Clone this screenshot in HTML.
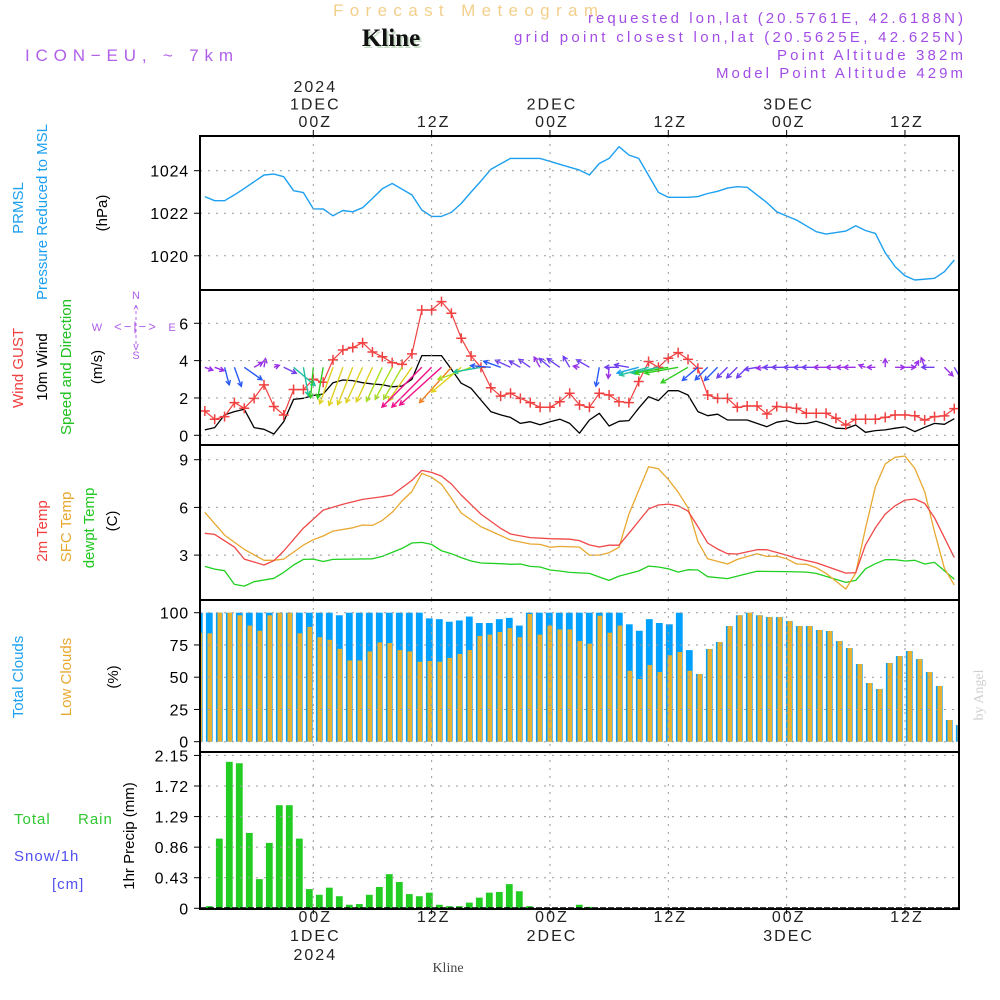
<!DOCTYPE html>
<html><head><meta charset="utf-8">
<style>
html,body{margin:0;padding:0;background:#fff;}
svg{display:block;}
text{font-family:"Liberation Sans",sans-serif;}
</style></head>
<body>
<svg id="chart" width="1000" height="1000" viewBox="0 0 1000 1000" xmlns="http://www.w3.org/2000/svg">
  <text x="333" y="16" font-size="17" fill="#f3cf8c" textLength="265" lengthAdjust="spacing">Forecast Meteogram</text>
  <text x="393" y="48" text-anchor="middle" font-size="25" font-weight="bold" fill="#c8dcc8" style="font-family:'Liberation Serif',serif">Kline</text>
  <text x="391" y="46" text-anchor="middle" font-size="25" font-weight="bold" fill="#111" style="font-family:'Liberation Serif',serif">Kline</text>
  <text x="25" y="61" font-size="17" fill="#b060e8" textLength="208" lengthAdjust="spacing">ICON−EU, ~ 7km</text>
  <g font-size="15" fill="#a24ee6">
    <text x="588" y="23" textLength="375" lengthAdjust="spacing">requested lon,lat (20.5761E, 42.6188N)</text>
    <text x="514" y="42" textLength="449" lengthAdjust="spacing">grid point closest lon,lat (20.5625E, 42.625N)</text>
    <text x="777" y="60" textLength="186" lengthAdjust="spacing">Point Altitude 382m</text>
    <text x="716" y="78" textLength="247" lengthAdjust="spacing">Model Point Altitude 429m</text>
  </g>
  <text transform="translate(983,695) rotate(-90)" text-anchor="middle" font-size="14" fill="#d0d0d0" style="font-family:'Liberation Serif',serif">by Angel</text>
  <text x="448" y="972" text-anchor="middle" font-size="14" fill="#444" style="font-family:'Liberation Serif',serif">Kline</text>

  <g font-size="15">
    <text transform="translate(23,208) rotate(-90)" text-anchor="middle" fill="#1ea0f0">PRMSL</text>
    <text transform="translate(47,212) rotate(-90)" text-anchor="middle" fill="#1ea0f0">Pressure Reduced to MSL</text>
    <text transform="translate(107,213) rotate(-90)" text-anchor="middle" fill="#000">(hPa)</text>
  </g>
  <g font-size="15">
    <text transform="translate(23,368) rotate(-90)" text-anchor="middle" fill="#f04040">Wind GUST</text>
    <text transform="translate(47,367) rotate(-90)" text-anchor="middle" fill="#000">10m Wind</text>
    <text transform="translate(71,367) rotate(-90)" text-anchor="middle" fill="#20c020">Speed and Direction</text>
    <text transform="translate(102,367) rotate(-90)" text-anchor="middle" fill="#000">(m/s)</text>
  </g>
  <g font-size="11" fill="#b060e8" text-anchor="middle">
    <text x="136" y="299">N</text><text x="136" y="359">S</text><text x="97" y="331">W</text><text x="172" y="331">E</text>
    <text x="136" y="331" font-size="13" letter-spacing="2">&lt;−|−&gt;</text>
    <text x="136" y="313" font-size="11">^</text><text x="136" y="350" font-size="11">v</text>
    <line x1="136" y1="305" x2="136" y2="345" stroke="#b060e8" stroke-width="1" stroke-dasharray="3,3"/>
  </g>
  <g font-size="15">
    <text transform="translate(47,531) rotate(-90)" text-anchor="middle" fill="#f04040">2m Temp</text>
    <text transform="translate(71,527) rotate(-90)" text-anchor="middle" fill="#e8a830">SFC Temp</text>
    <text transform="translate(94,528) rotate(-90)" text-anchor="middle" fill="#20c820">dewpt Temp</text>
    <text transform="translate(117,521) rotate(-90)" text-anchor="middle" fill="#000">(C)</text>
  </g>
  <g font-size="15">
    <text transform="translate(23,677) rotate(-90)" text-anchor="middle" fill="#1ea0f0">Total Clouds</text>
    <text transform="translate(71,677) rotate(-90)" text-anchor="middle" fill="#e8a830">Low Clouds</text>
    <text transform="translate(118,677) rotate(-90)" text-anchor="middle" fill="#000">(%)</text>
  </g>
  <g font-size="15" letter-spacing="1">
    <text x="14" y="824" fill="#30c830">Total</text>
    <text x="78" y="824" fill="#30c830">Rain</text>
    <text x="14" y="861" fill="#5050f0">Snow/1h</text>
    <text x="52" y="889" fill="#5050f0">[cm]</text>
    <text transform="translate(134,836) rotate(-90)" text-anchor="middle" fill="#000" letter-spacing="0">1hr Precip (mm)</text>
  </g>
  <g id="plot"></g>
</svg>
<script>
const hours = []; for (let h = -11; h <= 65; h++) hours.push(h);
const pressHours = [-11,-10,-9,-8,-7,-5,-4,-3,-2,-1,0,1,2,3,4,5,6,7,8,10,11,12,13,14,15,16,17,18,20,23,25,27,28,29,30,31,32,33,35,36,38,39,40,41,42,43,44,45,46,47,48,49,51,52,54,55,56,57,58,59,60,61,63,64,65];
const pressure = [1022.78,1022.59,1022.59,1022.86,1023.17,1023.8,1023.84,1023.72,1023.06,1022.97,1022.21,1022.2,1021.88,1022.13,1022.07,1022.26,1022.7,1023.15,1023.4,1022.86,1022.15,1021.85,1021.85,1022.04,1022.46,1023.0,1023.51,1024.06,1024.58,1024.58,1024.3,1024.03,1023.8,1024.34,1024.58,1025.13,1024.74,1024.58,1022.98,1022.75,1022.75,1022.78,1022.93,1023.03,1023.18,1023.25,1023.22,1022.86,1022.5,1022.07,1021.87,1021.68,1021.13,1021.02,1021.16,1021.41,1021.19,1021.05,1020.14,1019.49,1019.06,1018.86,1018.94,1019.25,1019.8];
const gust = [1.30,0.86,1.0,1.75,1.45,1.98,2.7,1.54,1.09,2.45,2.45,3.0,2.84,4.04,4.57,4.7,4.96,4.46,4.21,3.89,3.8,4.36,6.71,6.71,7.16,6.54,5.2,4.25,3.64,2.55,2.1,2.25,1.98,1.75,1.5,1.5,1.8,2.25,1.63,1.5,
  2.25,2.16,1.8,1.75,2.88,3.95,3.64,4.13,4.43,4.07,3.59,2.16,1.98,1.98,1.5,1.57,1.57,1.14,1.54,1.5,1.45,1.18,1.18,1.18,0.91,0.55,0.86,0.86,0.86,0.96,1.09,1.09,1.05,0.82,1.0,1.04,1.43];
const wind = [0.29,0.41,1.09,1.27,1.39,0.41,0.32,0.07,0.73,1.93,1.98,2.13,2.21,2.82,2.96,2.93,2.82,2.75,2.71,2.6,2.64,3.0,4.27,4.27,4.27,3.54,2.79,2.52,1.89,1.27,1.09,0.96,0.64,0.73,0.57,0.73,0.86,0.64,0.11,0.82,
  1.18,0.5,0.75,0.79,1.45,2.07,1.86,2.39,2.39,2.16,1.27,1.05,1.13,0.82,0.82,0.82,0.64,0.46,0.7,0.79,0.63,0.63,0.75,0.59,0.38,0.36,0.55,0.16,0.25,0.29,0.38,0.45,0.2,0.43,0.64,0.59,0.89];
const windDir = [20,20,75,70,35,330,280,340,25,40,80,95,100,110,110,112,115,115,115,118,120,125,135,135,138,132,140,160,170,185,200,205,210,215,240,220,215,240,190,210,
  100,95,180,190,165,165,168,170,170,150,140,135,135,135,135,135,170,175,180,180,180,180,180,180,180,180,180,200,180,270,0,0,300,250,180,45,60];
const t2mHours = [-11,-10,-8,-7,-5,-4,-3,-1,1,3,5,7,8,10,11,12,13,14,15,17,19,20,22,24,26,27,28,29,30,31,32,34,35,36,37,38,39,40,41,42,43,45,46,48,49,51,54,55,56,57,58,59,60,61,62,63,65];
const t2m = [4.37,4.3,3.5,2.75,2.38,2.65,3.26,4.7,5.83,6.2,6.5,6.67,6.78,7.7,8.33,8.2,7.97,7.47,6.78,5.58,4.68,4.33,4.1,4.03,4.0,3.91,3.64,3.51,3.62,3.62,4.37,5.9,6.15,6.21,6.1,5.77,4.79,3.76,3.38,3.09,3.07,3.34,3.34,3.0,2.79,2.52,1.87,1.89,3.64,4.72,5.58,6.1,6.46,6.53,6.25,5.35,2.84];
const sfcHours = [-11,-9,-7,-5,-4,-3,-1,0,1,2,4,5,6,7,8,9,10,11,12,13,14,15,17,18,20,22,23,24,25,27,28,29,30,31,32,34,35,36,37,38,39,40,42,43,45,46,47,48,49,50,51,52,54,55,56,57,58,59,60,61,62,63,64,65];
const sfc = [5.69,4.26,3.36,2.67,2.67,2.75,3.63,3.97,4.2,4.51,4.72,4.89,4.87,5.18,5.69,6.4,7.0,8.14,7.89,7.45,6.57,5.65,4.79,4.51,3.95,3.7,3.67,3.49,3.55,3.5,3.0,3.0,3.15,3.49,5.58,8.56,8.43,7.76,6.95,5.98,3.84,2.77,2.44,2.73,3.09,2.92,2.94,2.77,2.44,2.42,2.21,1.85,0.87,1.87,4.68,7.3,8.73,9.15,9.23,8.45,6.99,4.47,2.17,1.12];
const dewHours = [-11,-10,-9,-8,-7,-6,-4,-3,-2,-1,0,1,2,6,7,9,10,11,12,13,14,15,16,17,19,20,21,22,23,24,25,26,28,29,30,31,33,34,35,36,37,38,39,40,42,43,45,48,50,51,52,54,55,56,57,58,59,60,61,62,63,64,65];
const dewpt = [2.29,2.12,2.02,1.16,1.05,1.33,1.54,1.91,2.38,2.73,2.75,2.6,2.73,2.77,2.92,3.42,3.76,3.8,3.67,3.27,3.09,2.84,2.63,2.5,2.46,2.42,2.44,2.29,2.25,2.06,2.0,1.91,1.85,1.62,1.41,1.68,2.0,2.31,2.25,2.14,1.93,2.08,2.06,1.64,1.52,1.68,1.98,1.96,1.93,1.85,1.66,1.28,1.41,2.14,2.46,2.71,2.71,2.63,2.67,2.44,2.54,2.02,1.48];
const totalCloud = [100,100,100,100,100,100,100,100,100,100,100,100,100,100,98,100,100,100,100,100,100,100,100,95.6,95,93,94,97,92,92,95,96,90,100,100,100,100,100,100,100,
  100,100,100,91,86,95,92,91,100,71,52.5,71.8,77.3,89.7,98,100,98,96.6,96.6,93.5,89.7,89.7,86.6,85.8,78,72.6,60.2,45.5,40.8,61,66.4,70.3,64,54,43.2,16.8,12.9];
const lowCloud = [84.5,84,100,100,98,90,86,98,100,100,84,89,81,79,72,63,63,70,77,76.5,71,70,62,62.5,62,65,68,71,82,83,85,88,81,99,83,90,87,87,78,76,
  97.7,84.5,90,55,48.6,59.4,54,67,69.5,55,52.5,71.8,77.3,89.7,98,100,98,96.6,96.6,93.5,89.7,89.7,86.6,85.8,78,72.6,60.2,45.5,40.8,61,66.4,70.3,64,54,43.2,16.8,12.9];
const precip = [0.03,0.98,2.06,2.04,1.06,0.41,0.92,1.45,1.45,0.98,0.27,0.19,0.29,0.17,0.05,0.06,0.19,0.30,0.48,0.37,0.2,0.17,0.22,0.05,0.03,0.03,0.08,0.15,0.22,0.23,0.34,0.24,0.03,0,0,0,0,0.05,0.02,
  0,0,0,0,0,0,0,0,0,0,0,0,0,0,0,0,0,0,0,0,0,0,0,0,0,0,0,0,0,0,0,0,0,0,0,0];
const pressTicks = [1020,1022,1024];
const windTicks = [0,2,4,6];
const tempTicks = [3,6,9];
const cloudTicks = [0,25,50,75,100];
const precipTicks = [0,0.43,0.86,1.29,1.72,2.15];
const precipTickLabels = ["0","0.43","0.86","1.29","1.72","2.15"];
const axisTimes = [0,12,24,36,48,60];
const topLabels = [["2024","1DEC","00Z"],["12Z"],["2DEC","00Z"],["12Z"],["3DEC","00Z"],["12Z"]];
const bottomLabels = [["00Z","1DEC","2024"],["12Z"],["00Z","2DEC"],["12Z"],["00Z","3DEC"],["12Z"]];

const X0 = 200, X1 = 959;
const x = h => 313.3 + 9.861 * h;
const xb = i => 309.3 + 10 * i;
const yP = p => 170.7 + (1024 - p) * 21.27;
const yW = v => 435.3 - v * 18.67;
const yT = t => 459.7 + (9 - t) * 15.9;
const yC = c => 741.7 - c * 1.29;
const yR = r => 908.3 - r * 71.1;
const panels = [
  {name:'pressure-panel', top:136, bot:290, ticks:pressTicks, y:yP, lab:pressTicks.map(String)},
  {name:'wind-panel', top:290, bot:445, ticks:windTicks, y:yW, lab:windTicks.map(String)},
  {name:'temp-panel', top:445, bot:600, ticks:tempTicks, y:yT, lab:tempTicks.map(String)},
  {name:'cloud-panel', top:600, bot:752, ticks:cloudTicks, y:yC, lab:cloudTicks.map(String)},
  {name:'precip-panel', top:752, bot:909, ticks:precipTicks, y:yR, lab:precipTickLabels}
];
const NS = 'http://www.w3.org/2000/svg';
const plot = document.getElementById('plot');
function mk(tag, attrs, parent) {
  const e = document.createElementNS(NS, tag);
  for (const k in attrs) e.setAttribute(k, attrs[k]);
  (parent || plot).appendChild(e);
  return e;
}

const defs = mk('defs', {});
panels.forEach((p, i) => {
  const cp = mk('clipPath', {id: 'clip' + i}, defs);
  mk('rect', {x: X0, y: p.top, width: X1 - X0, height: p.bot - p.top}, cp);
});

panels.forEach((p, i) => {
  const g = mk('g', {});
  
  
  p.g = mk('g', {'clip-path': 'url(#clip' + i + ')'}, g);
  p.ticks.forEach((t, k) => {
    const yy = p.y(t);
    if (yy > p.top + 2 && yy < p.bot - 2) {
      const gl = mk('line', {x1: X0, x2: X1, y1: yy, y2: yy, stroke: '#999', 'stroke-width': 1, 'stroke-dasharray': '2,6'}, g);
      
      
    }
    mk('line', {x1: X0 - 6, x2: X0, y1: yy, y2: yy, stroke: '#000', 'stroke-width': 1}, g);
    const tl = mk('text', {x: X0 - 11, y: yy + 6, 'text-anchor': 'end', 'font-size': 16, fill: '#000', 'letter-spacing': 0.8}, g);
    tl.textContent = p.lab[k];
    
    
  });
  axisTimes.forEach(h => {
    const vl = mk('line', {x1: x(h), x2: x(h), y1: p.top, y2: p.bot, stroke: '#999', 'stroke-width': 1, 'stroke-dasharray': '2,6'}, g);
    
    
  });
  p.frame = g;
});

axisTimes.forEach((h, i) => {
  const lines = topLabels[i];
  lines.forEach((s, k) => {
    const t = mk('text', {x: x(h) + 2, y: 127 - (lines.length - 1 - k) * 17.5, 'text-anchor': 'middle', 'font-size': 16, fill: '#222', 'letter-spacing': 2});
    t.textContent = s;
    
    
  });
  mk('line', {x1: x(h), x2: x(h), y1: 130, y2: 136, stroke: '#000'});
  bottomLabels[i].forEach((s, k) => {
    const t = mk('text', {x: x(h) + 2, y: 922 + k * 19, 'text-anchor': 'middle', 'font-size': 16, fill: '#222', 'letter-spacing': 2});
    t.textContent = s;
    
    
  });
  mk('line', {x1: x(h), x2: x(h), y1: 909, y2: 914, stroke: '#000'});
});

function line(g, xs, ys, color, w, name) {
  const pts = xs.map((v, i) => v.toFixed(1) + ',' + ys[i].toFixed(1)).join(' ');
  const pl = mk('polyline', {points: pts, fill: 'none', stroke: color, 'stroke-width': w, 'stroke-linejoin': 'round'}, g);
  
  
  return pl;
}

line(panels[0].g, pressHours.map(x), pressure.map(yP), '#1ea0f0', 1.4, 'pressure-line');

const wg = panels[1].g;
line(wg, hours.map(x), wind.map(yW), '#000', 1.3, 'wind-speed-line');
line(wg, hours.map(x), gust.map(yW), '#f04040', 1.2, 'gust-line');
gust.forEach((v, i) => {
  const cx = x(hours[i]), cy = yW(v);
  const m = mk('path', {d: `M${cx - 5},${cy}H${cx + 5}M${cx},${cy - 5}V${cy + 5}`, stroke: '#f04040', 'stroke-width': 1.5}, wg);
  
  
});
function windColor(v) {
  if (v < 0.6) return '#9a30e8';
  if (v < 1.0) return '#7040f0';
  if (v < 1.4) return '#2a5af5';
  if (v < 1.8) return '#1ea0f0';
  if (v < 2.1) return '#20c0a0';
  if (v < 2.5) return '#30cc20';
  if (v < 2.75) return '#a8e020';
  if (v < 3.3) return '#e0d020';
  if (v < 3.9) return '#f08020';
  return '#f0108a';
}
const arrowBase = yW(3.64);
wind.forEach((v, i) => {
  const x0 = x(hours[i]);
  const len = 5 + 12 * v;
  const a = windDir[i] * Math.PI / 180;
  const x1 = x0 + len * Math.cos(a), y1 = arrowBase + len * Math.sin(a);
  const hl = 5;
  const a1 = a + Math.PI - 0.5, a2 = a + Math.PI + 0.5;
  const d = `M${x0.toFixed(1)},${arrowBase.toFixed(1)}L${x1.toFixed(1)},${y1.toFixed(1)}` +
    `M${(x1 + hl * Math.cos(a1)).toFixed(1)},${(y1 + hl * Math.sin(a1)).toFixed(1)}L${x1.toFixed(1)},${y1.toFixed(1)}L${(x1 + hl * Math.cos(a2)).toFixed(1)},${(y1 + hl * Math.sin(a2)).toFixed(1)}`;
  const ar = mk('path', {d: d, stroke: windColor(v), 'stroke-width': 1.4, fill: 'none'}, wg);
  
  
});

const tg = panels[2].g;
line(tg, dewHours.map(x), dewpt.map(yT), '#20d020', 1.3, 'dewpoint-line');
line(tg, sfcHours.map(x), sfc.map(yT), '#e8a830', 1.3, 'sfc-temp-line');
line(tg, t2mHours.map(x), t2m.map(yT), '#f04848', 1.3, 't2m-line');

const cg = panels[3].g;
totalCloud.forEach((v, i) => {
  const cx = xb(hours[i]);
  const b = mk('rect', {x: cx - 3.4, y: yC(v), width: 6.8, height: yC(0) - yC(v), fill: '#00a0ff'}, cg);
  
  
  const lv = lowCloud[i];
  const o = mk('rect', {x: cx - 1.8, y: yC(lv), width: 4.6, height: yC(0) - yC(lv), fill: '#e8b030'}, cg);
  
  
});

const pg = panels[4].g;
precip.forEach((v, i) => {
  if (v <= 0) return;
  const cx = xb(i - 10);
  const b = mk('rect', {x: cx - 3.4, y: yR(v), width: 6.8, height: yR(0) - yR(v), fill: '#22cc22'}, pg);
  
  
});
mk('line', {x1: X0, x2: X1, y1: 908, y2: 908, stroke: '#000', 'stroke-width': 1.5, 'stroke-dasharray': '6,2'}, pg);

panels.forEach(p => {
  const r = mk('rect', {x: X0, y: p.top, width: X1 - X0, height: p.bot - p.top, fill: 'none', stroke: '#000', 'stroke-width': 2}, p.frame);
  
  
});
</script>
</body></html>
